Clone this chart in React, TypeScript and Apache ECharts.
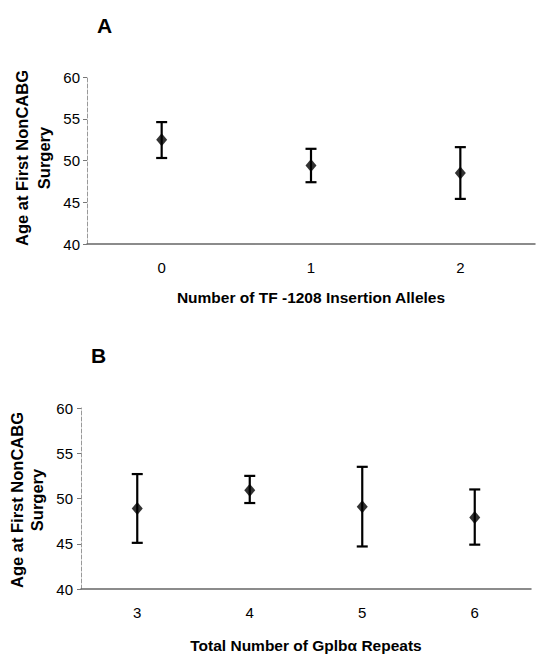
import React, { useEffect, useRef } from "react";
import * as echarts from "echarts";

const categoriesA = ["0", "1", "2"];
const meanA = [52.5, 49.4, 48.5];
const upperA = [54.6, 51.4, 51.6];
const lowerA = [50.3, 47.4, 45.4];

const categoriesB = ["3", "4", "5", "6"];
const meanB = [48.9, 50.9, 49.1, 47.9];
const upperB = [52.7, 52.5, 53.5, 51.0];
const lowerB = [45.1, 49.5, 44.7, 44.9];

const yMin = 40;
const yMax = 60;
const yInterval = 5;

const titleA = "Number of TF -1208 Insertion Alleles";
const titleB = "Total Number of Gplb\u03b1 Repeats";
const yTitle = "Age at First NonCABG\nSurgery";

const FONT = "'Liberation Sans', Arial, Helvetica, sans-serif";

function errorRender(params: any, api: any) {
  const x = api.value(0);
  const lo = api.coord([x, api.value(1)]);
  const hi = api.coord([x, api.value(2)]);
  const half = 5.5;
  const style = { stroke: "#000", lineWidth: 2.2, fill: "none" };
  return {
    type: "group",
    children: [
      { type: "line", shape: { x1: lo[0], y1: lo[1], x2: hi[0], y2: hi[1] }, style },
      { type: "line", shape: { x1: hi[0] - half, y1: hi[1], x2: hi[0] + half, y2: hi[1] }, style },
      { type: "line", shape: { x1: lo[0] - half, y1: lo[1], x2: lo[0] + half, y2: lo[1] }, style },
    ],
  };
}

function xAxisFor(idx: number, cats: string[], name: string, gap: number) {
  return {
    type: "category",
    gridIndex: idx,
    data: cats,
    boundaryGap: true,
    axisLine: { show: true, lineStyle: { color: "#666", width: 1.5 } },
    axisTick: { show: false },
    axisLabel: { color: "#000", fontSize: 15, fontFamily: FONT, margin: 16 },
    name,
    nameLocation: "middle",
    nameGap: gap,
    nameTextStyle: { color: "#000", fontSize: 15.5, fontWeight: "bold", fontFamily: FONT },
  };
}

function yAxisFor(idx: number, labelMargin: number) {
  return {
    type: "value",
    gridIndex: idx,
    min: yMin,
    max: yMax,
    interval: yInterval,
    axisLine: { show: true, lineStyle: { color: "#999", type: "dashed", width: 1 } },
    axisTick: { show: true, length: 4, lineStyle: { color: "#777" } },
    axisLabel: { color: "#000", fontSize: 15, fontFamily: FONT, margin: labelMargin },
    splitLine: { show: false },
  };
}

export default function App() {
  const ref = useRef<HTMLDivElement>(null);
  useEffect(() => {
    document.body.style.margin = "0";
    if (!ref.current) return;
    const chart = echarts.init(ref.current, null, { renderer: "svg" });
    const errA = categoriesA.map((_, i) => [i, lowerA[i], upperA[i]]);
    const errB = categoriesB.map((_, i) => [i, lowerB[i], upperB[i]]);
    chart.setOption({
      animation: false,
      backgroundColor: "#fff",
      textStyle: { fontFamily: FONT },
      grid: [
        { left: 87, right: 4, top: 77, height: 167 },
        { left: 81, right: 8, top: 408, height: 186 },
      ],
      xAxis: [xAxisFor(0, categoriesA, titleA, 45), xAxisFor(1, categoriesB, titleB, 48)],
      yAxis: [yAxisFor(0, 7), yAxisFor(1, 8)],
      graphic: [
        {
          type: "text",
          left: 97,
          top: 15,
          style: { text: "A", fontSize: 21, fontWeight: "bold", fontFamily: FONT, fill: "#000" },
        },
        {
          type: "text",
          left: 91,
          top: 345,
          style: { text: "B", fontSize: 21, fontWeight: "bold", fontFamily: FONT, fill: "#000" },
        },
        {
          type: "text",
          x: 33,
          y: 158,
          rotation: Math.PI / 2,
          style: {
            text: yTitle,
            fontSize: 16.5,
            fontWeight: "bold",
            fontFamily: FONT,
            fill: "#000",
            align: "center",
            verticalAlign: "middle",
            lineHeight: 22,
          },
        },
        {
          type: "text",
          x: 27,
          y: 500,
          rotation: Math.PI / 2,
          style: {
            text: yTitle,
            fontSize: 16.5,
            fontWeight: "bold",
            fontFamily: FONT,
            fill: "#000",
            align: "center",
            verticalAlign: "middle",
            lineHeight: 20,
          },
        },
      ],
      series: [
        {
          type: "custom",
          xAxisIndex: 0,
          yAxisIndex: 0,
          renderItem: errorRender,
          encode: { x: 0, y: [1, 2] },
          data: errA,
          z: 2,
        },
        {
          type: "scatter",
          xAxisIndex: 0,
          yAxisIndex: 0,
          symbol: "diamond",
          symbolSize: [11, 13],
          itemStyle: { color: "#000" },
          data: meanA,
          z: 3,
        },
        {
          type: "custom",
          xAxisIndex: 1,
          yAxisIndex: 1,
          renderItem: errorRender,
          encode: { x: 0, y: [1, 2] },
          data: errB,
          z: 2,
        },
        {
          type: "scatter",
          xAxisIndex: 1,
          yAxisIndex: 1,
          symbol: "diamond",
          symbolSize: [11, 13],
          itemStyle: { color: "#000" },
          data: meanB,
          z: 3,
        },
      ],
    });
    return () => chart.dispose();
  }, []);
  return <div ref={ref} style={{ width: 539, height: 654 }} />;
}
